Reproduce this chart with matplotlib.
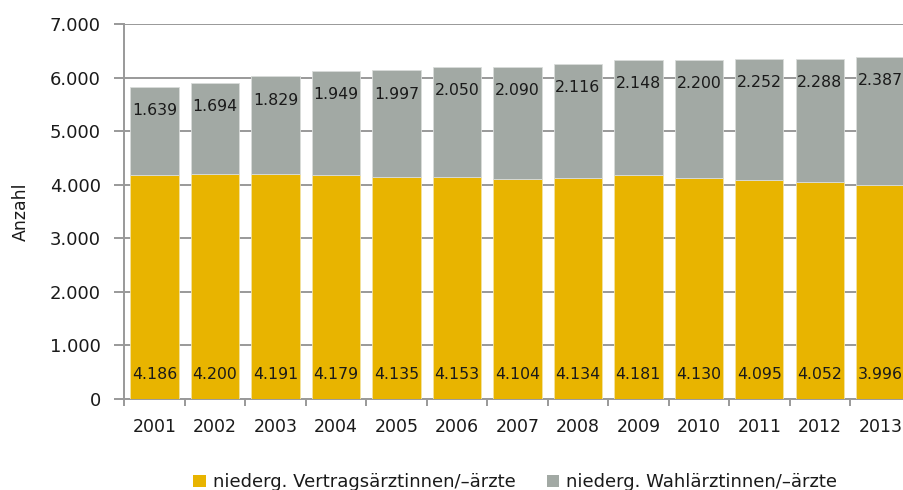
import numpy as np
import matplotlib
matplotlib.use("Agg")
import matplotlib.pyplot as plt
from matplotlib.patches import Patch

# data
years = ["2001", "2002", "2003", "2004", "2005", "2006", "2007",
         "2008", "2009", "2010", "2011", "2012", "2013"]
vertrag = [4186, 4200, 4191, 4179, 4135, 4153, 4104,
           4134, 4181, 4130, 4095, 4052, 3996]
wahl = [1639, 1694, 1829, 1949, 1997, 2050, 2090,
        2116, 2148, 2200, 2252, 2288, 2387]
y_ticks = [0, 1000, 2000, 3000, 4000, 5000, 6000, 7000]
y_ticklabels = ["0", "1.000", "2.000", "3.000", "4.000", "5.000", "6.000", "7.000"]
legend_names = ["niederg. Vertragsärztinnen/–ärzte", "niederg. Wahlärztinnen/–ärzte"]

YELLOW = "#E8B400"
GREY = "#A2A9A4"
LINE = "#999999"
TXT = "#1a1a1a"


def fmt(v):
    # german thousands separator
    return f"{v:,}".replace(",", ".")


fig = plt.figure(figsize=(9.04, 4.90), dpi=100)
# axes deliberately runs past the right edge, like the reference crop
ax = fig.add_axes([124.3 / 904, 91 / 490, 786.2 / 904, 375 / 490])

x = np.arange(len(years))
ax.bar(x, vertrag, width=0.8, color=YELLOW, edgecolor="#f3e2a0", linewidth=0.6, zorder=3)
ax.bar(x, wahl, width=0.8, bottom=vertrag, color=GREY, edgecolor="#d9dcda",
       linewidth=0.6, zorder=3)

for xi, v, w in zip(x, vertrag, wahl):
    ax.annotate(fmt(v), (xi, 0), xytext=(0, 18), textcoords="offset points",
                ha="center", va="center", fontsize=11.3, color=TXT, zorder=4)
    ax.annotate(fmt(w), (xi, v + w), xytext=(0, -17), textcoords="offset points",
                ha="center", va="center", fontsize=11.3, color=TXT, zorder=4)

ax.set_xlim(-0.5, len(years) - 0.5)
ax.set_ylim(0, 7000)
ax.set_yticks(y_ticks)
ax.set_yticklabels(y_ticklabels)
ax.yaxis.grid(True, color=LINE, linewidth=1.4, zorder=0)
ax.set_axisbelow(True)

# category boundary ticks, labels sit in between
ax.set_xticks(np.arange(len(years) + 1) - 0.5)
ax.set_xticklabels([])
ax.set_xticks(x, minor=True)
ax.set_xticklabels(years, minor=True)
ax.tick_params(axis="x", which="major", length=5, width=1.4, color=LINE)
ax.tick_params(axis="x", which="minor", length=0, pad=14, labelsize=12.5, labelcolor=TXT)
ax.tick_params(axis="y", length=7, width=1.4, color=LINE, pad=10, labelsize=13,
               labelcolor=TXT)

for s in ["top", "right"]:
    ax.spines[s].set_visible(False)
for s in ["left", "bottom"]:
    ax.spines[s].set_color(LINE)
    ax.spines[s].set_linewidth(1.4)

ax.set_ylabel("Anzahl", fontsize=12.5, color=TXT, labelpad=14)

handles = [Patch(facecolor=YELLOW, edgecolor="none"), Patch(facecolor=GREY, edgecolor="none")]
fig.legend(handles, legend_names, loc="center", bbox_to_anchor=(0.570, 0.016),
           ncol=2, frameon=False, fontsize=13, handlelength=0.7, handleheight=0.7,
           handletextpad=0.4, columnspacing=1.7, labelcolor=TXT)

fig.savefig("out.png", dpi=100)
